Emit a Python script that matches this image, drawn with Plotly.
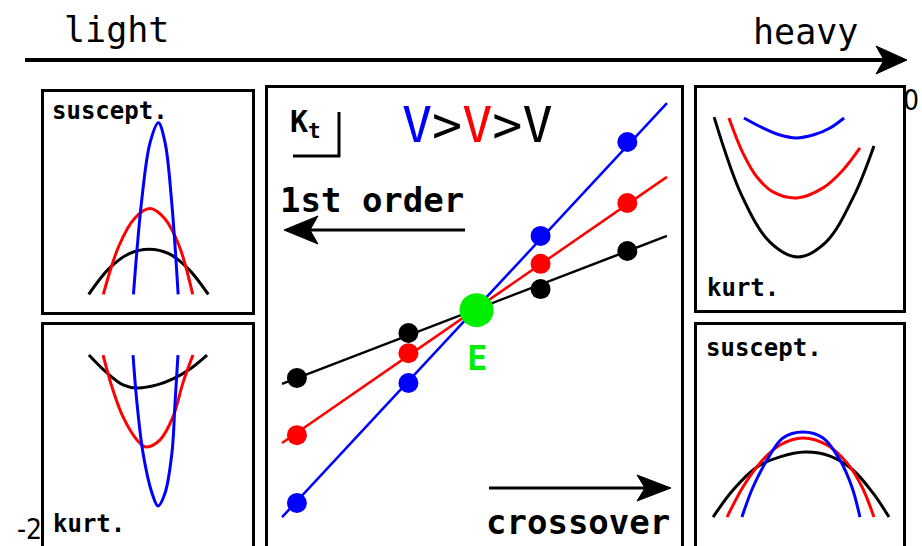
import plotly.graph_objects as go

W, H = 922, 546

# ---------------- data ----------------
# centre panel: K_t versus the scanned parameter for three values of V
c_pts_x = [0.7, 3.4, 6.6, 8.7]
blue_pts_y = [0.94, 3.56, 6.77, 8.82]
red_pts_y = [2.42, 4.21, 6.16, 7.49]
black_pts_y = [3.67, 4.65, 5.61, 6.44]
c_line_x = [0.34, 9.66]
blue_line_y = [0.63, 9.67]
red_line_y = [2.25, 8.06]
black_line_y = [3.54, 6.77]
E_x = [5.05]
E_y = [5.15]

# left-top: susceptibility (light side)
lt_blue_x = [4.3, 4.7, 5.1, 5.5, 5.82, 6.13, 6.45]
lt_blue_y = [0.8, 5.1, 7.7, 8.6, 7.7, 5.1, 0.8]
lt_red_x = [2.85, 3.6, 4.35, 5.1, 5.8, 6.5, 7.15]
lt_red_y = [0.8, 3.0, 4.25, 4.7, 4.25, 3.0, 0.8]
lt_black_x = [2.15, 3.1, 4.1, 5.05, 6.0, 6.95, 7.9]
lt_black_y = [0.8, 1.95, 2.65, 2.85, 2.65, 1.95, 0.8]

# left-bottom: kurtosis (light side)
lb_black_x = [2.16, 3.03, 3.80, 4.47, 5.43, 6.20, 7.02, 7.84]
lb_black_y = [8.64, 7.83, 7.29, 7.15, 7.29, 7.56, 8.01, 8.64]
lb_red_x = [2.84, 3.27, 3.80, 4.47, 4.90, 5.58, 6.20, 6.68, 7.16]
lb_red_y = [8.64, 7.19, 5.84, 4.80, 4.48, 4.80, 5.84, 7.38, 8.64]
lb_blue_x = [4.28, 4.47, 4.76, 5.19, 5.48, 5.82, 6.15, 6.30, 6.44]
lb_blue_y = [8.64, 6.47, 4.21, 2.40, 1.81, 2.40, 4.21, 6.47, 8.64]

# right-top: kurtosis (heavy side)
rt_black_x = [0.83, 2.18, 3.54, 4.90, 6.26, 7.62, 8.59]
rt_black_y = [8.69, 5.14, 3.06, 2.39, 3.06, 5.14, 7.39]
rt_red_x = [1.55, 2.23, 2.91, 3.69, 4.85, 6.12, 7.09, 7.91]
rt_red_y = [8.65, 7.07, 5.99, 5.32, 5.05, 5.50, 6.31, 7.30]
rt_blue_x = [2.28, 3.20, 4.03, 4.81, 5.63, 6.46, 7.14]
rt_blue_y = [8.65, 8.20, 7.88, 7.75, 7.88, 8.20, 8.65]

# right-bottom: susceptibility (heavy side)
rb_black_x = [0.78, 1.75, 2.91, 4.03, 5.24, 6.46, 7.57, 8.54, 9.32]
rb_black_y = [1.31, 2.53, 3.57, 4.03, 4.25, 4.07, 3.44, 2.40, 1.31]
rb_red_x = [1.46, 2.23, 3.06, 4.03, 5.15, 6.31, 7.28, 8.01, 8.59]
rb_red_y = [1.31, 2.67, 3.76, 4.57, 4.89, 4.57, 3.76, 2.67, 1.31]
rb_blue_x = [2.18, 2.72, 3.40, 4.17, 5.15, 6.12, 6.94, 7.52, 7.91]
rb_blue_y = [1.31, 2.67, 3.89, 4.89, 5.16, 4.89, 3.89, 2.67, 1.31]

BLUE, RED, BLACK, GREEN = "#0000ff", "#ff0000", "#000000", "#00ee00"
MONO = "DejaVu Sans Mono"
COND = "DejaVu Sans Condensed, DejaVu Sans"


def px(x):
    return x / W


def py(y):
    return 1 - y / H


fig = go.Figure()

# panels: (axis suffix, left, right, top, bottom px, closed bottom?)
panels = [
    ("", 44, 252, 92, 312, True),     # LT
    ("2", 44, 252, 325, 546, False),  # LB
    ("3", 268, 681, 88, 546, False),  # centre
    ("4", 697, 903, 88, 310, True),   # RT
    ("5", 697, 903, 325, 546, False),  # RB
]
for suf, l, r, t, b, closed in panels:
    xa = dict(domain=[px(l), px(r)], range=[0, 10], showgrid=False, zeroline=False,
              showticklabels=False, ticks="", showline=True, linecolor="black",
              linewidth=2.5, fixedrange=True)
    ya = dict(domain=[py(b), py(t)], range=[0, 10], showgrid=False, zeroline=False,
              showticklabels=False, ticks="", showline=True, linecolor="black",
              linewidth=2.5, mirror=True, fixedrange=True)
    if closed:
        xa["mirror"] = True
    else:
        xa["side"] = "top"
    ya["anchor"] = "x" + suf
    xa["anchor"] = "y" + suf
    fig.update_layout(**{"xaxis" + suf: xa, "yaxis" + suf: ya})


def curve(x, y, color, suf):
    fig.add_trace(go.Scatter(x=x, y=y, mode="lines", line=dict(color=color, width=3, shape="spline"),
                             xaxis="x" + suf, yaxis="y" + suf, hoverinfo="skip"))


curve(lt_black_x, lt_black_y, BLACK, "")
curve(lt_red_x, lt_red_y, RED, "")
curve(lt_blue_x, lt_blue_y, BLUE, "")
curve(lb_black_x, lb_black_y, BLACK, "2")
curve(lb_red_x, lb_red_y, RED, "2")
curve(lb_blue_x, lb_blue_y, BLUE, "2")
curve(rt_black_x, rt_black_y, BLACK, "4")
curve(rt_red_x, rt_red_y, RED, "4")
curve(rt_blue_x, rt_blue_y, BLUE, "4")
curve(rb_black_x, rb_black_y, BLACK, "5")
curve(rb_red_x, rb_red_y, RED, "5")
curve(rb_blue_x, rb_blue_y, BLUE, "5")

# centre lines and points
for ly, col in [(black_line_y, BLACK), (red_line_y, RED), (blue_line_y, BLUE)]:
    fig.add_trace(go.Scatter(x=c_line_x, y=ly, mode="lines", line=dict(color=col, width=2.5),
                             xaxis="x3", yaxis="y3", hoverinfo="skip"))
for pyv, col in [(black_pts_y, BLACK), (red_pts_y, RED), (blue_pts_y, BLUE)]:
    fig.add_trace(go.Scatter(x=c_pts_x, y=pyv, mode="markers", marker=dict(color=col, size=20),
                             xaxis="x3", yaxis="y3", hoverinfo="skip"))
fig.add_trace(go.Scatter(x=E_x, y=E_y, mode="markers", marker=dict(color=GREEN, size=34),
                         xaxis="x3", yaxis="y3", hoverinfo="skip"))

# ---------------- decorations ----------------
shapes = []


def line_shape(x0, y0, x1, y1, w):
    shapes.append(dict(type="line", xref="paper", yref="paper", x0=px(x0), y0=py(y0),
                       x1=px(x1), y1=py(y1), line=dict(color="black", width=w)))


def poly(pts):
    path = "M " + " L ".join(f"{px(a):.5f},{py(b):.5f}" for a, b in pts) + " Z"
    shapes.append(dict(type="path", xref="paper", yref="paper", path=path,
                       fillcolor="black", line=dict(color="black", width=1)))


# top arrow light -> heavy
line_shape(25, 60, 890, 60, 4)
poly([(907, 60), (876, 46), (884, 60), (876, 74)])
# 1st order arrow (left)
line_shape(300, 230, 465, 230, 3)
poly([(284, 230), (318, 216), (310, 230), (318, 244)])
# crossover arrow (right)
line_shape(489, 488, 650, 488, 3)
poly([(671, 488), (637, 475), (645, 488), (637, 501)])
# K_t corner mark
line_shape(339, 112, 339, 157, 3)
line_shape(293, 156, 340, 156, 3)

annotations = []


def ann(text, x, y, size, xanchor="left", color="black", bold=False, family=MONO):
    annotations.append(dict(text=text, x=px(x), y=py(y), xref="paper", yref="paper",
                            xanchor=xanchor, yanchor="middle", showarrow=False,
                            font=dict(family=family, size=size, color=color,
                                      weight="bold" if bold else "normal")))


ann("light", 62, 30, 35)
ann("heavy", 860, 32, 35, xanchor="right")
ann("0", 921, 100, 28, xanchor="right", family=COND)
ann("-2", 44, 529, 28, xanchor="right", family=COND)
ann("suscept.", 50, 111, 24, bold=True)
ann("kurt.", 51, 524, 24, bold=True)
ann("kurt.", 705, 288, 24, bold=True)
ann("suscept.", 704, 348, 24, bold=True)
ann("K<sub>t</sub>", 288, 124, 30, bold=True)
ann('<span style="color:#0000ff">V</span>&gt;<span style="color:#ff0000">V</span>&gt;V',
    400, 125, 50)
ann("1st order", 278, 200, 34, bold=True)
ann("crossover", 672, 522, 34, xanchor="right", bold=True)
ann("E", 477, 358, 34, xanchor="center", color=GREEN, bold=True)

fig.update_layout(width=W, height=H, margin=dict(l=0, r=0, t=0, b=0),
                  paper_bgcolor="white", plot_bgcolor="white", showlegend=False,
                  shapes=shapes, annotations=annotations)

fig.write_html("out.html", config={"displayModeBar": False},
               post_script="document.body.style.margin='0';document.body.style.overflow='hidden';")
